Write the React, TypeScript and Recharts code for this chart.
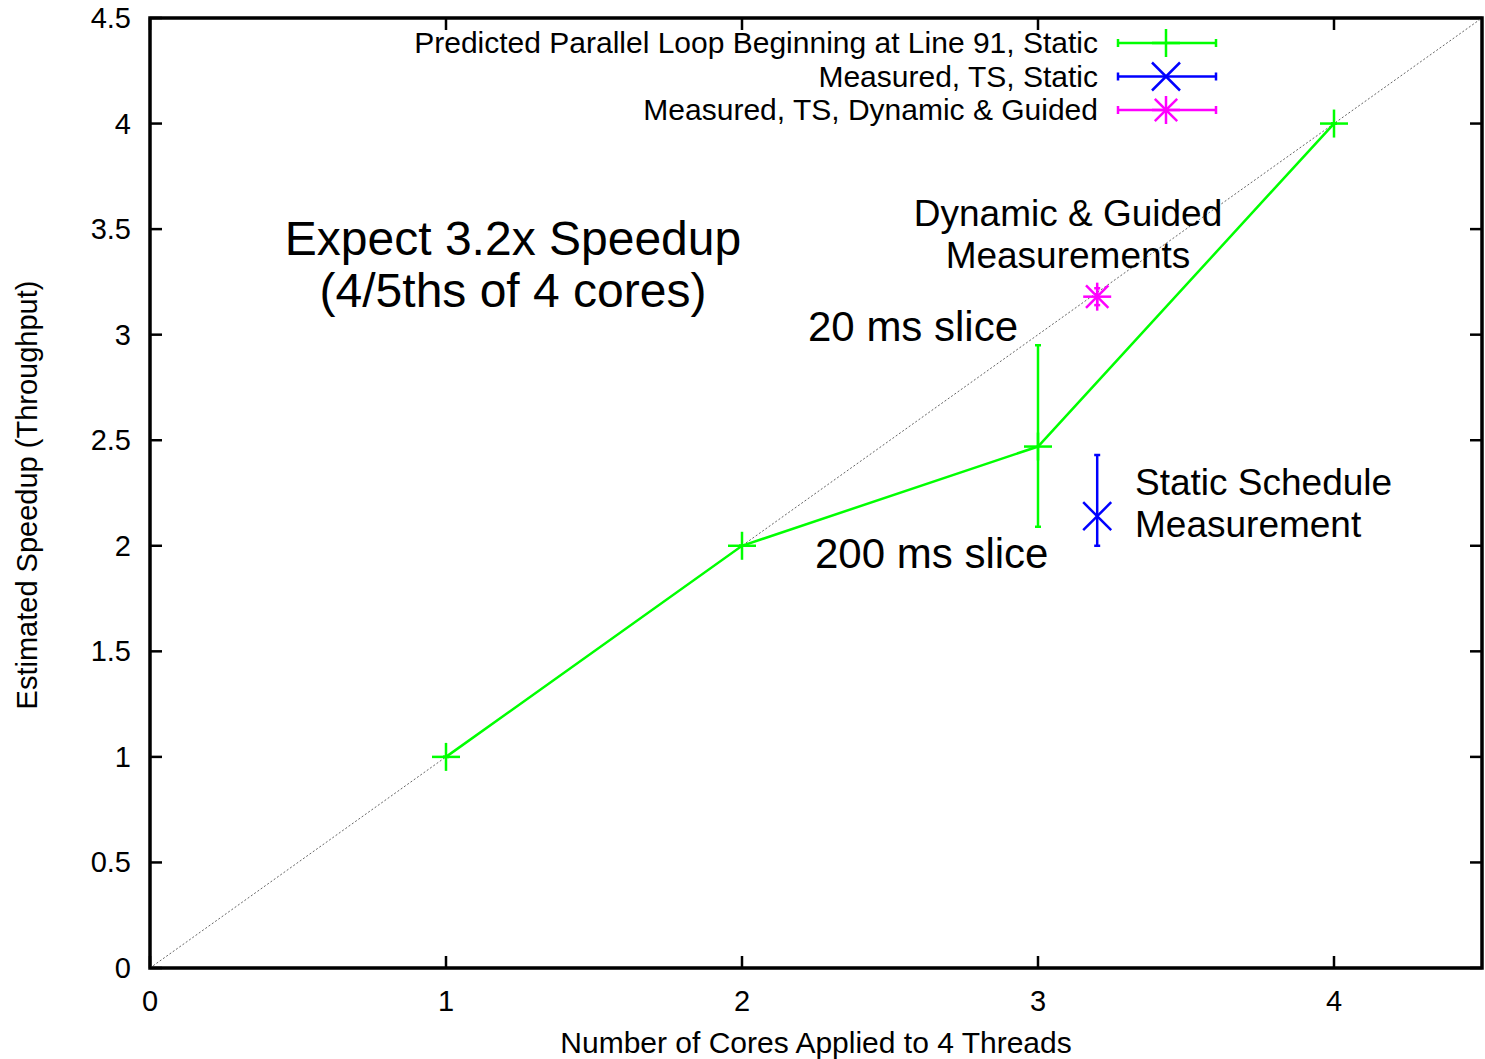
import React from 'react';
import {
  ScatterChart,
  Scatter,
  XAxis,
  YAxis,
  ErrorBar,
  ReferenceLine,
  ReferenceArea,
  Legend,
} from 'recharts';

// values
const xTicks = [0, 1, 2, 3, 4];
const yTicks = [0, 0.5, 1, 1.5, 2, 2.5, 3, 3.5, 4, 4.5];

const predictedCores = [1, 2, 3, 4];
const predictedSpeedup = [1, 2, 2.47, 4];
const predictedErr = [[0, 0], [0, 0], [0.38, 0.48], [0, 0]];

const staticCores = [3.2];
const staticSpeedup = [2.14];
const staticErr = [[0.14, 0.29]];

const dynamicCores = [3.2];
const dynamicSpeedup = [3.18];
const dynamicErr = [[0.04, 0.04]];

const idealLine = [0, 4.5];

const toRows = (xs: number[], ys: number[], errs: number[][]) =>
  xs.map((x, i) => ({ x, y: ys[i], err: errs[i] }));

const predicted = toRows(predictedCores, predictedSpeedup, predictedErr);
const measuredStatic = toRows(staticCores, staticSpeedup, staticErr);
const measuredDynamic = toRows(dynamicCores, dynamicSpeedup, dynamicErr);

const W = 1485;
const H = 1059;
const PLOT_TOP = 18;
const PLOT_LEFT = 150;
const PLOT_RIGHT = 1482;
const PLOT_BOTTOM = 968;
const FONT = '"Liberation Sans", Arial, Helvetica, sans-serif';

const GREEN = '#00ff00';
const BLUE = '#0000ff';
const MAGENTA = '#ff00ff';

const Plus = ({ cx, cy, color, s = 14 }: any) => (
  <g stroke={color} strokeWidth={2.5}>
    <line x1={cx - s} y1={cy} x2={cx + s} y2={cy} />
    <line x1={cx} y1={cy - s} x2={cx} y2={cy + s} />
  </g>
);

const Cross = ({ cx, cy, color, s = 14 }: any) => (
  <g stroke={color} strokeWidth={2.5}>
    <line x1={cx - s} y1={cy - s} x2={cx + s} y2={cy + s} />
    <line x1={cx - s} y1={cy + s} x2={cx + s} y2={cy - s} />
  </g>
);

const Star = ({ cx, cy, color, s = 14 }: any) => (
  <g>
    <Plus cx={cx} cy={cy} color={color} s={s} />
    <Cross cx={cx} cy={cy} color={color} s={s * 0.8} />
  </g>
);

const markers: Record<string, any> = { plus: Plus, cross: Cross, star: Star };

const legendItems = [
  { name: 'Predicted Parallel Loop Beginning at Line 91, Static', color: GREEN, marker: 'plus' },
  { name: 'Measured, TS, Static', color: BLUE, marker: 'cross' },
  { name: 'Measured, TS, Dynamic & Guided', color: MAGENTA, marker: 'star' },
];

const XTick = ({ x, payload }: any) => (
  <g>
    <line x1={x} y1={PLOT_BOTTOM} x2={x} y2={PLOT_BOTTOM - 12} stroke="#000" strokeWidth={2.5} />
    <line x1={x} y1={PLOT_TOP} x2={x} y2={PLOT_TOP + 12} stroke="#000" strokeWidth={2.5} />
    <text x={x} y={PLOT_BOTTOM + 43} textAnchor="middle" fontSize={29} fontFamily={FONT} fill="#000">
      {payload.value}
    </text>
  </g>
);

const YTick = ({ y, payload }: any) => (
  <g>
    <line x1={PLOT_LEFT} y1={y} x2={PLOT_LEFT + 12} y2={y} stroke="#000" strokeWidth={2.5} />
    <line x1={PLOT_RIGHT} y1={y} x2={PLOT_RIGHT - 12} y2={y} stroke="#000" strokeWidth={2.5} />
    <text x={131} y={y + 10} textAnchor="end" fontSize={29} fontFamily={FONT} fill="#000">
      {payload.value}
    </text>
  </g>
);

const LegendBox = () => (
  <svg width={W} height={140} style={{ display: 'block' }}>
    {legendItems.map((item, i) => {
      const cy = 43 + i * 33.5;
      const M = markers[item.marker];
      return (
        <g key={item.name}>
          <text x={1098} y={cy + 10} textAnchor="end" fontSize={30} fontFamily={FONT} fill="#000">
            {item.name}
          </text>
          <g stroke={item.color} strokeWidth={2.5}>
            <line x1={1118} y1={cy} x2={1216} y2={cy} />
            <line x1={1118} y1={cy - 4} x2={1118} y2={cy + 4} />
            <line x1={1216} y1={cy - 4} x2={1216} y2={cy + 4} />
          </g>
          <M cx={1166} cy={cy} color={item.color} />
        </g>
      );
    })}
  </svg>
);

const Notes = () => (
  <svg width={W} height={H} style={{ position: 'absolute', left: 0, top: 0, pointerEvents: 'none' }}>
    <g fontFamily={FONT} fill="#000">
      <text x={513} y={255} textAnchor="middle" fontSize={48}>Expect 3.2x Speedup</text>
      <text x={513} y={307} textAnchor="middle" fontSize={48}>(4/5ths of 4 cores)</text>
      <text x={1068} y={226} textAnchor="middle" fontSize={37}>Dynamic &amp; Guided</text>
      <text x={1068} y={268} textAnchor="middle" fontSize={37}>Measurements</text>
      <text x={808} y={341} fontSize={42}>20 ms slice</text>
      <text x={815} y={568} fontSize={42}>200 ms slice</text>
      <text x={1135} y={495} fontSize={37}>Static Schedule</text>
      <text x={1135} y={537} fontSize={37}>Measurement</text>
      <text x={816} y={1053} textAnchor="middle" fontSize={30}>Number of Cores Applied to 4 Threads</text>
      <text x={37} y={495} textAnchor="middle" fontSize={29} transform="rotate(-90 37 495)">
        Estimated Speedup (Throughput)
      </text>
    </g>
  </svg>
);

const App = () => {
  return (
    <div style={{ position: 'absolute', left: 0, top: 0, width: W, height: H, background: '#fff' }}>
      <ScatterChart
        width={W}
        height={H}
        margin={{ top: PLOT_TOP, right: W - PLOT_RIGHT, left: 0, bottom: 0 }}
      >
        <XAxis
          dataKey="x"
          type="number"
          domain={[0, 4.5]}
          ticks={xTicks}
          height={H - PLOT_BOTTOM}
          axisLine={false}
          tickLine={false}
          tickSize={0}
          tickMargin={0}
          tick={<XTick />}
          allowDataOverflow
        />
        <YAxis
          dataKey="y"
          type="number"
          domain={[0, 4.5]}
          ticks={yTicks}
          width={PLOT_LEFT}
          axisLine={false}
          tickLine={false}
          tickSize={0}
          tickMargin={0}
          tick={<YTick />}
          allowDataOverflow
        />
        <ReferenceLine
          segment={[
            { x: idealLine[0], y: idealLine[0] },
            { x: idealLine[1], y: idealLine[1] },
          ]}
          stroke="#666"
          strokeWidth={1}
          strokeDasharray="2 2"
        />
        <Scatter
          name={legendItems[0].name}
          data={predicted}
          fill={GREEN}
          line={{ stroke: GREEN, strokeWidth: 2.5 }}
          shape={(p: any) => <Plus cx={p.cx} cy={p.cy} color={GREEN} />}
          isAnimationActive={false}
        >
          <ErrorBar dataKey="err" direction="y" width={3} stroke={GREEN} strokeWidth={2.5} />
        </Scatter>
        <Scatter
          name={legendItems[1].name}
          data={measuredStatic}
          fill={BLUE}
          shape={(p: any) => <Cross cx={p.cx} cy={p.cy} color={BLUE} />}
          isAnimationActive={false}
        >
          <ErrorBar dataKey="err" direction="y" width={3} stroke={BLUE} strokeWidth={2.5} />
        </Scatter>
        <Scatter
          name={legendItems[2].name}
          data={measuredDynamic}
          fill={MAGENTA}
          shape={(p: any) => <Star cx={p.cx} cy={p.cy} color={MAGENTA} />}
          isAnimationActive={false}
        >
          <ErrorBar dataKey="err" direction="y" width={3} stroke={MAGENTA} strokeWidth={2.5} />
        </Scatter>
        <ReferenceArea x1={0} x2={4.5} y1={0} y2={4.5} fill="none" stroke="#000" strokeWidth={3.5} />
        <Legend
          layout="horizontal"
          verticalAlign="middle"
          align="center"
          content={<LegendBox />}
          wrapperStyle={{ position: 'absolute', left: 0, top: 0, width: W, height: 140 }}
        />
      </ScatterChart>
      <Notes />
    </div>
  );
};

export default App;
